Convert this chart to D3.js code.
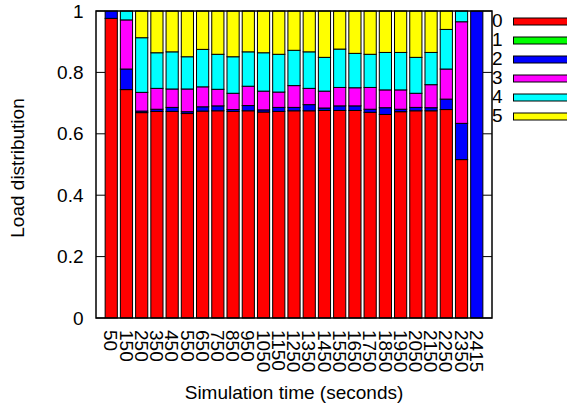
<!DOCTYPE html>
<html>
<head>
<meta charset="utf-8">
<script src="https://cdn.jsdelivr.net/npm/d3@7"></script>
<style>
  html, body { margin: 0; padding: 0; background: #fff; }
  svg { display: block; }
  text { font-family: "Liberation Sans", Arial, Helvetica, sans-serif; font-size: 19px; fill: #000; }
</style>
</head>
<body>
<svg id="chart" width="567" height="406"></svg>
<script>
// Simulation time of each sample (x tick labels)
const times = ["50","150","250","350","450","550","650","750","850","950","1050","1150",
  "1250","1350","1450","1550","1650","1750","1850","1950","2050","2150","2250","2350","2415"];

// Share of the load handled by each node, per sample
const node0 = [0.976,0.744,0.669,0.673,0.673,0.666,0.674,0.675,0.673,0.675,0.671,0.673,
  0.675,0.675,0.676,0.676,0.676,0.670,0.663,0.672,0.675,0.675,0.679,0.516,0];
const node1 = [0,0,0,0,0,0,0,0,0,0,0,0,0,0,0,0,0,0,0,0,0,0,0,0,0];
const node2 = [0.024,0.067,0.005,0.007,0.013,0.006,0.014,0.016,0.006,0.017,0.007,0.013,
  0.011,0.020,0.008,0.015,0.015,0.010,0.022,0.008,0.011,0.010,0.034,0.118,1];
const node3 = [0,0.160,0.061,0.068,0.060,0.074,0.065,0.054,0.053,0.063,0.061,0.050,
  0.071,0.053,0.055,0.060,0.059,0.071,0.058,0.063,0.046,0.075,0.098,0.331,0];
const node4 = [0,0.029,0.178,0.116,0.121,0.105,0.122,0.114,0.119,0.112,0.125,0.123,
  0.115,0.119,0.110,0.125,0.112,0.108,0.122,0.122,0.117,0.105,0.129,0.035,0];
const node5 = [0,0,0.087,0.136,0.133,0.149,0.125,0.141,0.149,0.133,0.136,0.141,
  0.128,0.133,0.151,0.124,0.138,0.141,0.135,0.135,0.151,0.135,0.060,0,0];

const seriesNames = ["0","1","2","3","4","5"];
const seriesColors = ["#ff0000","#00ff00","#0000ff","#ff00ff","#00ffff","#ffff00"];
const yTicks = [0, 0.2, 0.4, 0.6, 0.8, 1];
const yTickLabels = ["0","0.2","0.4","0.6","0.8","1"];

const svgEl = d3.select("#chart");
const plot = { left: 96, right: 492, top: 11, bottom: 318 };

// rows for d3.stack
const columns = [node0, node1, node2, node3, node4, node5];
const rows = times.map((t, i) => {
  const r = { i };
  seriesNames.forEach((k, s) => { r[k] = columns[s][i]; });
  return r;
});
const stacked = d3.stack().keys(seriesNames)(rows);

const x = d3.scaleLinear().domain([-1, times.length]).range([plot.left, plot.right]);
const y = d3.scaleLinear().domain([0, 1]).range([plot.bottom, plot.top]);
const barW = x(0.8) - x(0);

// inward tick marks on both vertical sides
const tickLen = 9;
const tickG = svgEl.append("g").attr("stroke", "#000").attr("stroke-width", 1);
yTicks.forEach(v => {
  tickG.append("line").attr("x1", plot.left).attr("x2", plot.left + tickLen)
    .attr("y1", y(v)).attr("y2", y(v));
  tickG.append("line").attr("x1", plot.right).attr("x2", plot.right - tickLen)
    .attr("y1", y(v)).attr("y2", y(v));
});

// stacked bars
const barsG = svgEl.append("g");
stacked.forEach((layer, s) => {
  barsG.selectAll(null)
    .data(layer.filter(d => d[1] - d[0] > 0))
    .enter().append("rect")
    .attr("x", d => x(d.data.i) - barW / 2)
    .attr("width", barW)
    .attr("y", d => y(d[1]))
    .attr("height", d => y(d[0]) - y(d[1]))
    .attr("fill", seriesColors[s])
    .attr("stroke", "#000")
    .attr("stroke-width", 1);
});

// plot frame
svgEl.append("rect")
  .attr("x", plot.left).attr("y", plot.top)
  .attr("width", plot.right - plot.left).attr("height", plot.bottom - plot.top)
  .attr("fill", "none").attr("stroke", "#000").attr("stroke-width", 1.5);

// y tick labels
svgEl.append("g").selectAll("text")
  .data(yTicks).enter().append("text")
  .attr("x", 83.5).attr("y", d => y(d)).attr("dy", "0.35em")
  .attr("text-anchor", "end")
  .text((d, i) => yTickLabels[i]);

// x tick labels, rotated to read downwards
svgEl.append("g").selectAll("text")
  .data(times).enter().append("text")
  .attr("transform", (d, i) => `translate(${x(i)},${plot.bottom + 12}) rotate(90)`)
  .attr("dy", "0.36em")
  .attr("text-anchor", "start")
  .text(d => d);

// axis titles
svgEl.append("text")
  .attr("x", (plot.left + plot.right) / 2).attr("y", 399)
  .attr("text-anchor", "middle")
  .text("Simulation time (seconds)");

svgEl.append("text")
  .attr("transform", `translate(24,168) rotate(-90)`)
  .attr("text-anchor", "middle")
  .text("Load distribution");

// legend
const legendY = d3.scalePoint().domain(seriesNames).range([21.5, 116.5]);
const legendG = svgEl.append("g");
seriesNames.forEach((k, s) => {
  legendG.append("text")
    .attr("x", 492).attr("y", legendY(k) - 1).attr("dy", "0.35em")
    .text(k);
  legendG.append("rect")
    .attr("x", 513.5).attr("y", legendY(k) - 3.5)
    .attr("width", 54).attr("height", 7)
    .attr("fill", seriesColors[s])
    .attr("stroke", "#000").attr("stroke-width", 1);
});
</script>
</body>
</html>
